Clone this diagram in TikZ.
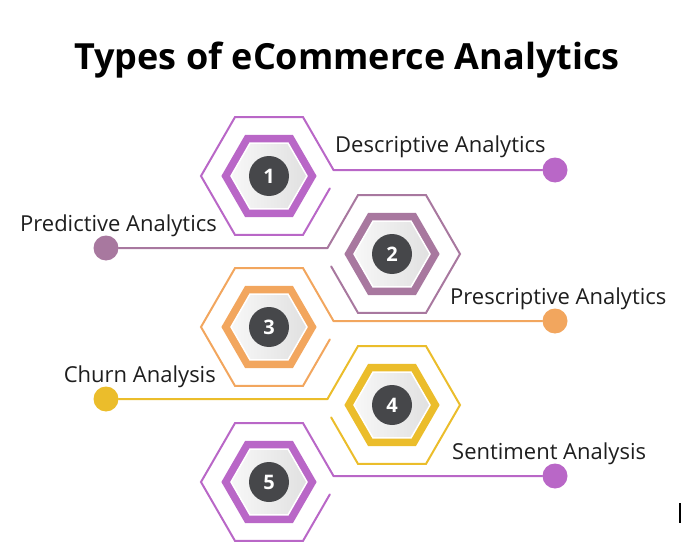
\documentclass[tikz,border=0pt]{standalone}
\usepackage{fontspec}
\setmainfont{Open Sans}
\usepackage{xcolor}
\usetikzlibrary{calc}

\definecolor{hexpurple}{HTML}{B967C7}
\definecolor{hexmauve}{HTML}{A8789F}
\definecolor{hexorange}{HTML}{F2A65E}
\definecolor{hexyellow}{HTML}{EBBD2B}
\definecolor{numgray}{HTML}{46474A}
\definecolor{textdark}{HTML}{1E1E1E}

\begin{document}
\begin{tikzpicture}[x=1pt,y=-1pt,
    ring/.style={line width=2pt, line cap=round, line join=miter},
    band/.style={line width=8pt, line join=miter},
    numdot/.style={circle, fill=numgray, minimum size=40pt, inner sep=0pt,
        text=white, font=\fontsize{20}{20}\selectfont\bfseries},
    enddot/.style={circle, minimum size=25pt, inner sep=0pt},
    itemtext/.style={text=textdark, inner sep=0pt, font=\fontsize{22}{26}\selectfont}]
    \useasboundingbox (0,0) rectangle (681,551);

    % Title
    \node[text=black, font=\fontsize{36}{44}\selectfont\bfseries, anchor=base] (title) at (347,70)
        {Types of eCommerce Analytics};

    % Hexagons, connectors and labels
    \foreach \n/\x/\y/\c/\s/\dx/\lx/\a/\t in {
        1/269/176/hexpurple/1/555/335/base west/Descriptive Analytics,
        2/392/254/hexmauve/-1/106/217/base east/Predictive Analytics,
        3/269/327/hexorange/1/555/450/base west/Prescriptive Analytics,
        4/392/405/hexyellow/-1/106/216/base east/Churn Analysis,
        5/269/482/hexpurple/1/555/452/base west/Sentiment Analysis} {
        \begin{scope}[shift={(\x,\y)}, xscale=\s]
            \draw[ring, draw=\c] ($(0:68)!0.21!(60:68)$) -- (60:68) -- (120:68) -- (180:68)
                -- (240:68) -- (300:68) -- ($(300:68)!0.9!(0:68)$) coordinate (brk\n);
            \draw[band, draw=\c] (0:43) -- (60:43) -- (120:43) -- (180:43) -- (240:43) -- (300:43) -- cycle;
            \draw[white, line width=1.5pt, left color=black!3, right color=black!12]
                (0:38) -- (60:38) -- (120:38) -- (180:38) -- (240:38) -- (300:38) -- cycle;
        \end{scope}
        \node[numdot] (num\n) at (\x,\y) {\n};
        \node[enddot, fill=\c] (dot\n) at (\dx,\y-6) {};
        \draw[ring, draw=\c] (brk\n) -- (dot\n);
        \node[itemtext, anchor=\a] (lab\n) at (\lx,\y-23) {\t};
    }

    % stray mark at the edge
    \fill[black] (679,503) rectangle (681,523);
\end{tikzpicture}
\end{document}
